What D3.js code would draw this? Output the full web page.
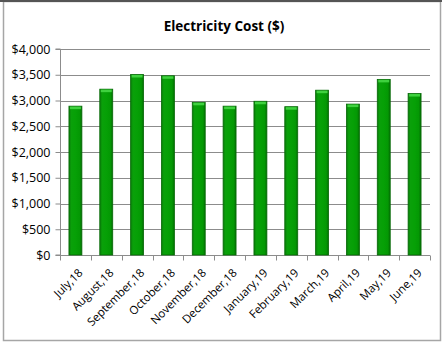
<!DOCTYPE html>
<html>
<head>
<meta charset="utf-8">
<script src="https://cdn.jsdelivr.net/npm/d3@7"></script>
<style>
  body { margin: 0; background: #fff; }
  svg { display: block; font-family: "Open Sans", "Liberation Sans", sans-serif; }
</style>
</head>
<body>
<div id="chart"></div>
<script>
// chart data
const months = ["July,18", "August,18", "September,18", "October,18", "November,18", "December,18",
                "January,19", "February,19", "March,19", "April,19", "May,19", "June,19"];
const costs = [2890, 3220, 3505, 3480, 2965, 2890, 2985, 2880, 3200, 2930, 3410, 3135];
const yTicks = [0, 500, 1000, 1500, 2000, 2500, 3000, 3500, 4000];
const title = "Electricity Cost ($)";

const W = 442, H = 343;
const margin = { top: 49, right: 12, bottom: 88, left: 60 };
const width = W - margin.left - margin.right;
const height = H - margin.top - margin.bottom;

const svg = d3.select("#chart").append("svg")
  .attr("width", W)
  .attr("height", H);

// outer frame
svg.append("rect")
  .attr("x", 3.5).attr("y", 1.5)
  .attr("width", 437).attr("height", 339)
  .attr("fill", "#fff")
  .attr("stroke", "#a6a6a6")
  .attr("stroke-width", 1.5);
svg.append("line")
  .attr("x1", 0).attr("x2", W).attr("y1", 1).attr("y2", 1)
  .attr("stroke", "#555").attr("stroke-width", 2);

// bar gradient
const defs = svg.append("defs");
const grad = defs.append("linearGradient").attr("id", "barGrad")
  .attr("x1", "0%").attr("x2", "100%");
[["0%", "#0a7a0a"], ["18%", "#0aa00a"], ["50%", "#06a006"], ["82%", "#049804"], ["100%", "#036f03"]]
  .forEach(([o, c]) => grad.append("stop").attr("offset", o).attr("stop-color", c));

svg.append("text")
  .attr("x", 224).attr("y", 31)
  .attr("text-anchor", "middle")
  .attr("font-size", 13.5)
  .attr("font-weight", "bold")
  .attr("fill", "#000")
  .text(title);

const g = svg.append("g")
  .attr("transform", `translate(${margin.left},${margin.top})`);

const x = d3.scaleBand()
  .domain(months)
  .range([0, width])
  .paddingInner(0.58)
  .paddingOuter(0.29);

const y = d3.scaleLinear()
  .domain([0, 4000])
  .range([height, 0]);

// gridlines
g.append("g")
  .selectAll("line")
  .data(yTicks.filter(d => d > 0))
  .join("line")
  .attr("x1", 0).attr("x2", width)
  .attr("y1", d => Math.round(y(d)) + 0.5)
  .attr("y2", d => Math.round(y(d)) + 0.5)
  .attr("stroke", "#8c8c8c")
  .attr("stroke-width", 1);

// y axis
const yAxis = g.append("g")
  .attr("transform", "translate(0.5,0)")
  .call(d3.axisLeft(y).tickValues(yTicks).tickSize(5).tickPadding(5)
    .tickFormat(d => "$" + d3.format(",")(d)));
yAxis.select(".domain").attr("stroke", "#8c8c8c").attr("d", `M-5,${height}H0V0H-5`);
yAxis.selectAll(".tick line").attr("stroke", "#8c8c8c");
yAxis.selectAll(".tick text").attr("font-size", 12.5).attr("fill", "#000")
  .attr("font-family", "Open Sans, sans-serif");

// x axis with ticks at category boundaries
const step = x.step();
const xg = g.append("g").attr("transform", `translate(0,${Math.round(height) + 0.5})`);
xg.append("line").attr("x1", 0).attr("x2", width).attr("stroke", "#8c8c8c");
xg.selectAll(".bnd")
  .data(d3.range(months.length + 1))
  .join("line")
  .attr("class", "bnd")
  .attr("x1", i => Math.round(i * step) + 0.5)
  .attr("x2", i => Math.round(i * step) + 0.5)
  .attr("y1", 0).attr("y2", 5)
  .attr("stroke", "#8c8c8c");

xg.selectAll(".lbl")
  .data(months)
  .join("text")
  .attr("class", "lbl")
  .attr("transform", d => `translate(${x(d) + x.bandwidth() / 2 + 2},${12}) rotate(-45)`)
  .attr("text-anchor", "end")
  .attr("font-size", 11.5)
  .attr("fill", "#000")
  .attr("dy", "0.75em")
  .text(d => d);

// bars
const bars = g.append("g").selectAll("g")
  .data(costs)
  .join("g")
  .attr("transform", (d, i) => `translate(${x(months[i])},0)`);

bars.append("rect")
  .attr("x", 0)
  .attr("y", d => y(d))
  .attr("width", x.bandwidth())
  .attr("height", d => height - y(d))
  .attr("fill", "url(#barGrad)")
  .attr("stroke", "#066806")
  .attr("stroke-width", 0.8);

// light top cap
bars.append("rect")
  .attr("x", 1)
  .attr("y", d => y(d) + 0.5)
  .attr("width", x.bandwidth() - 2)
  .attr("height", 2.5)
  .attr("fill", "#3fd13f");
</script>
</body>
</html>
